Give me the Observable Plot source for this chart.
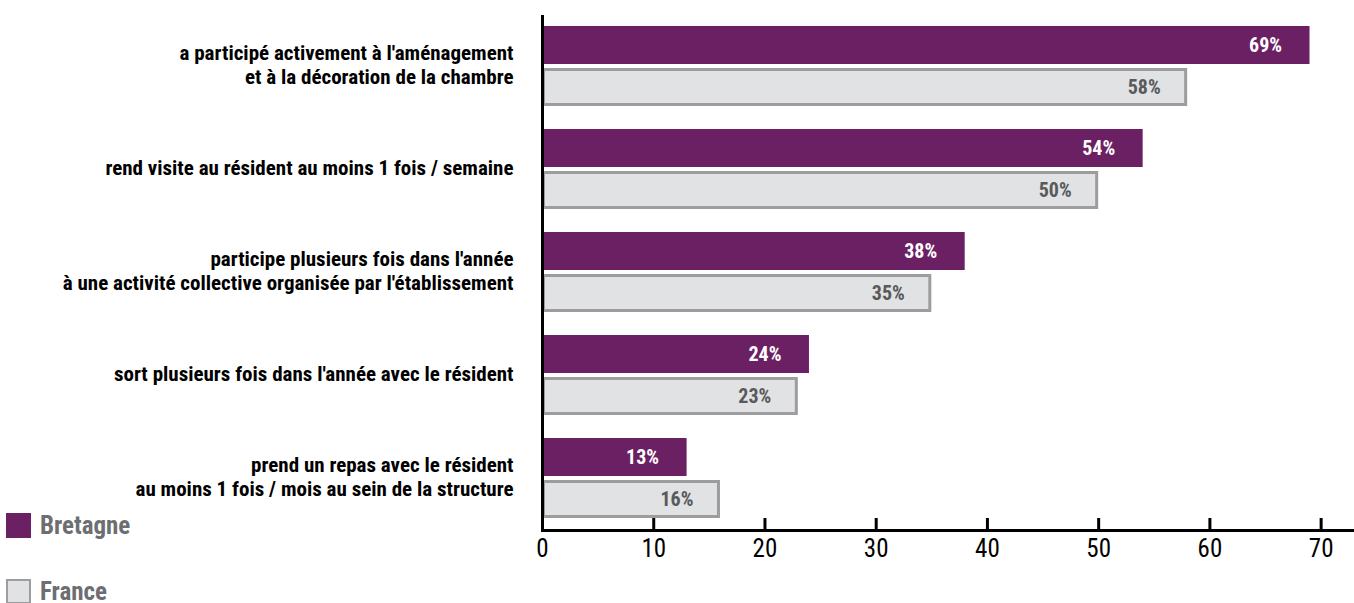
<!DOCTYPE html>
<html>
<head>
<meta charset="utf-8">
<script src="https://cdn.jsdelivr.net/npm/d3@7"></script>
<script src="https://cdn.jsdelivr.net/npm/@observablehq/plot@0.6"></script>
<style>
  body { margin: 0; background: #fff; }
  #wrap { position: relative; width: 1354px; height: 603px; overflow: hidden;
          font-family: Roboto, "DejaVu Sans Condensed", sans-serif; font-stretch: condensed; }
  #chart svg { display: block; font-stretch: condensed; }
  .leg { position: absolute; left: 6px; display: flex; align-items: center; gap: 9px;
         font-size: 25px; font-weight: bold; color: #6d6e71; line-height: 1; }
  .sw { width: 25px; height: 25px; box-sizing: border-box; }
</style>
</head>
<body>
<div id="wrap">
  <div id="chart"></div>
  <div id="legend"></div>
</div>
<script>
const categories = [
  "a participé activement à l'aménagement\net à la décoration de la chambre",
  "rend visite au résident au moins 1 fois / semaine",
  "participe plusieurs fois dans l'année\nà une activité collective organisée par l'établissement",
  "sort plusieurs fois dans l'année avec le résident",
  "prend un repas avec le résident\nau moins 1 fois / mois au sein de la structure"
];
const series = ["Bretagne", "France"];
const bretagne = [69, 54, 38, 24, 13];
const france = [58, 50, 35, 23, 16];
const xTicks = [0, 10, 20, 30, 40, 50, 60, 70];
const colors = { Bretagne: "#6c2064", France: "#e1e2e4" };
const franceStroke = "#9d9d9f";
const fontFamily = 'Roboto, "DejaVu Sans Condensed", sans-serif';

const data = categories.flatMap((c, i) => [
  { category: c, series: "Bretagne", value: bretagne[i] },
  { category: c, series: "France", value: france[i] }
]);
const dB = data.filter(d => d.series === "Bretagne");
const dF = data.filter(d => d.series === "France");

const chart = Plot.plot({
  width: 1354,
  height: 603,
  marginLeft: 542,
  marginRight: 0,
  marginTop: 13,
  marginBottom: 72,
  style: { fontFamily, fontStretch: "condensed", background: "transparent", overflow: "visible" },
  x: { domain: [0, 73], axis: null },
  y: { domain: series, axis: null, paddingInner: 0.095, paddingOuter: 0.26 },
  fy: { domain: categories, padding: 0, axis: null },
  marks: [
    Plot.barX(dB, { fy: "category", y: "series", x: "value", fill: colors.Bretagne }),
    Plot.barX(dF, { fy: "category", y: "series", x: "value", fill: colors.France,
                    stroke: franceStroke, strokeWidth: 3, inset: 1.5 }),
    Plot.text(dB, { fy: "category", y: "series", x: "value", text: d => d.value + "%",
                    textAnchor: "end", dx: -28, fill: "white", fontWeight: "bold", fontSize: 20 }),
    Plot.text(dF, { fy: "category", y: "series", x: "value", text: d => d.value + "%",
                    textAnchor: "end", dx: -27, fill: "#58595b", fontWeight: "bold", fontSize: 20 }),
    Plot.ruleX([0], { stroke: "black", strokeWidth: 3 }),
    Plot.frame({ anchor: "bottom", stroke: "black", strokeWidth: 3, facetAnchor: "bottom" }),
    Plot.axisX(xTicks, { anchor: "bottom", tickSize: -12, tickPadding: 21, strokeWidth: 3,
                         fontSize: 25, fill: "black", label: null }),
    Plot.axisFy({ anchor: "left", tickSize: 0, tickPadding: 29, fontSize: 21, fontWeight: "bold",
                  fill: "black", lineHeight: 1.15, dy: -3, label: null })
  ]
});
document.getElementById("chart").appendChild(chart);

const legend = document.getElementById("legend");
const legendItems = [
  { name: "Bretagne", top: 513, fill: colors.Bretagne, border: "none" },
  { name: "France", top: 579, fill: colors.France, border: "2px solid " + franceStroke }
];
for (const it of legendItems) {
  const row = document.createElement("div");
  row.className = "leg";
  row.style.top = it.top + "px";
  const sw = document.createElement("div");
  sw.className = "sw";
  sw.style.background = it.fill;
  sw.style.border = it.border;
  const t = document.createElement("span");
  t.textContent = it.name;
  row.appendChild(sw);
  row.appendChild(t);
  legend.appendChild(row);
}
</script>
</body>
</html>
